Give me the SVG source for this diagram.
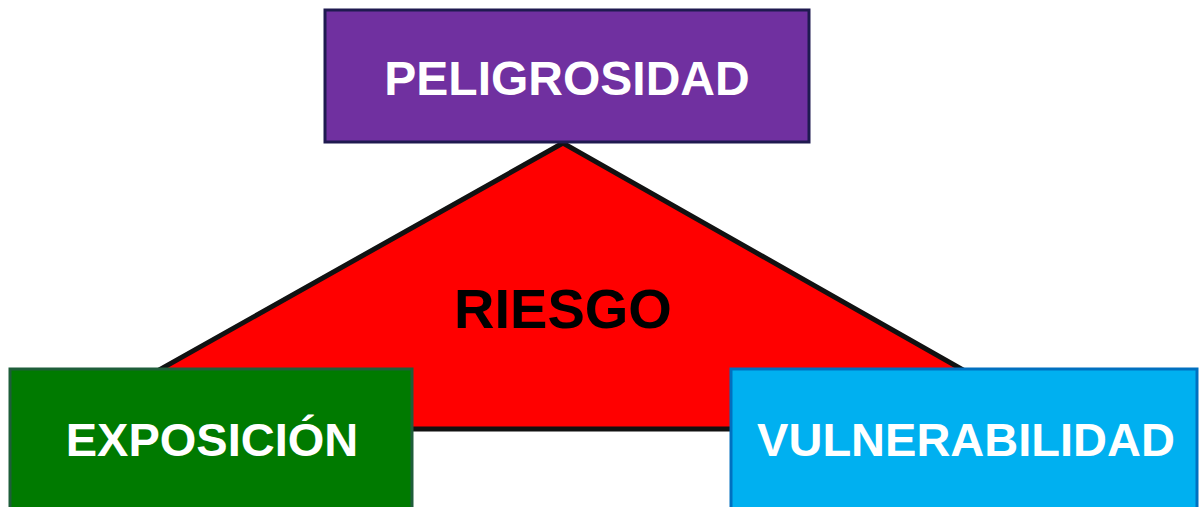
<svg xmlns="http://www.w3.org/2000/svg" width="1199" height="507" viewBox="0 0 1199 507">
<style>
.lbl{font-family:"Liberation Sans",Arial,sans-serif;font-weight:bold;text-anchor:middle}
.w{fill:#ffffff}
</style>
<rect width="1199" height="507" fill="#ffffff"/>
<g id="riesgo">
<polygon points="563,143 54,429 1067,429" fill="#ff0000" stroke="#111111" stroke-width="5" stroke-linejoin="miter"/>
<text class="lbl" x="563" y="328" font-size="56" fill="#000000">RIESGO</text>
</g>
<g id="peligrosidad">
<rect x="325" y="10" width="484" height="132" fill="#7030a0" stroke="#1f1a50" stroke-width="3"/>
<text class="lbl w" x="567" y="95" font-size="48">PELIGROSIDAD</text>
</g>
<g id="exposicion">
<rect x="10" y="369" width="402" height="145" fill="#007a00" stroke="#1e5e3a" stroke-width="3"/>
<text class="lbl w" x="212" y="456" font-size="47">EXPOSICIÓN</text>
</g>
<g id="vulnerabilidad">
<rect x="731" y="369" width="466" height="145" fill="#00b0f0" stroke="#0070c0" stroke-width="3"/>
<text class="lbl w" x="966" y="456" font-size="47">VULNERABILIDAD</text>
</g>
</svg>
